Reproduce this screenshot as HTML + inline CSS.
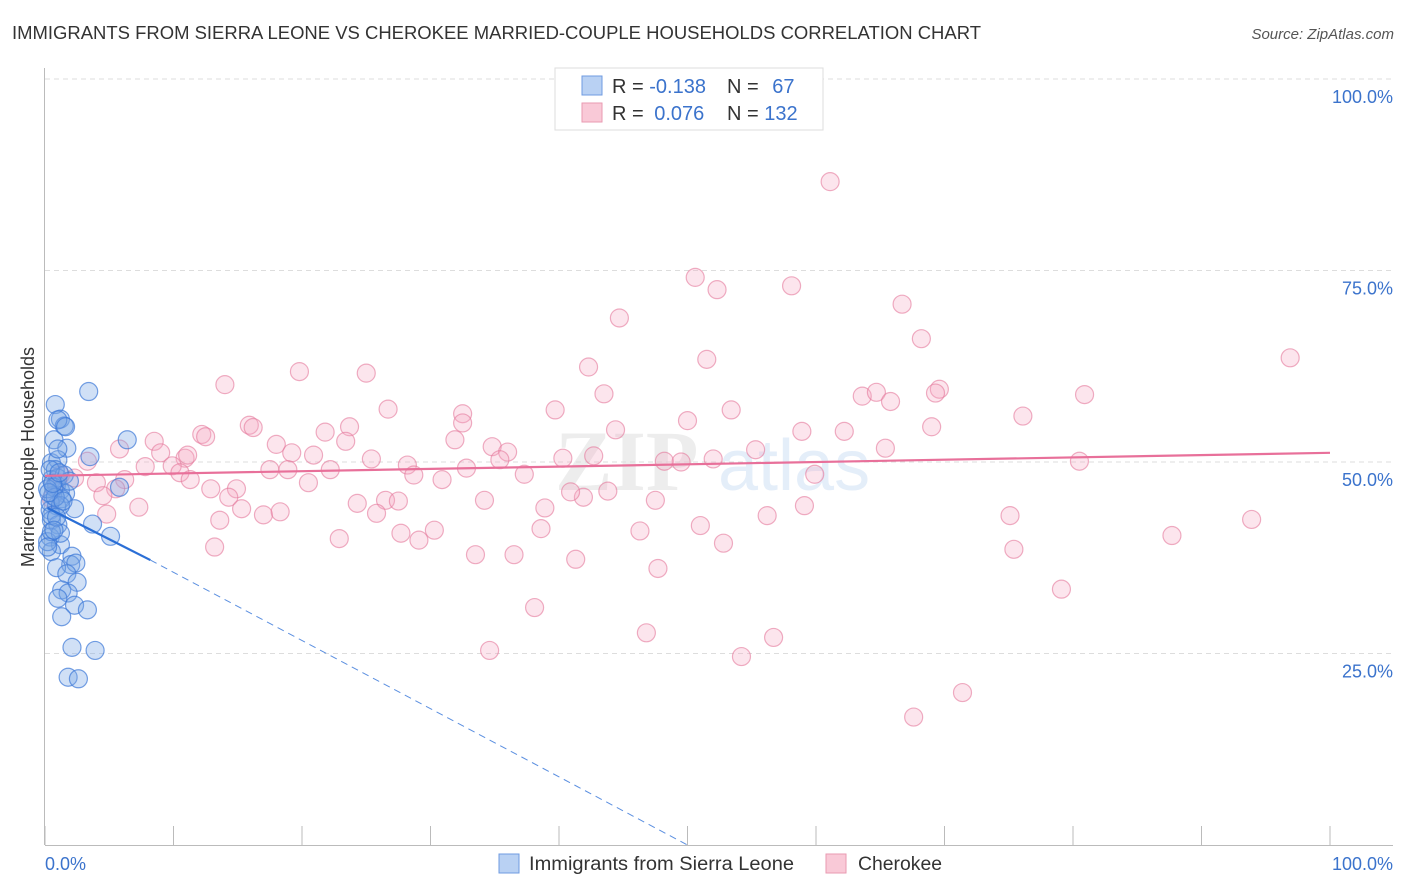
<!DOCTYPE html>
<html><head><meta charset="utf-8"><style>
body{margin:0;background:#fff;font-family:"Liberation Sans",sans-serif;}
svg{display:block}
</style></head><body>
<svg id="chart" width="1406" height="892" font-family="Liberation Sans, sans-serif">
<text x="12" y="39" font-size="18" fill="#333" textLength="969" lengthAdjust="spacingAndGlyphs">IMMIGRANTS FROM SIERRA LEONE VS CHEROKEE MARRIED-COUPLE HOUSEHOLDS CORRELATION CHART</text>
<text x="1394" y="39" font-size="15" fill="#555" font-style="italic" text-anchor="end">Source: ZipAtlas.com</text>
<text transform="translate(34,457) rotate(-90)" font-size="18" fill="#333" text-anchor="middle">Married-couple Households</text>
<g opacity="0.35">
<text x="555" y="490" font-size="86" fill="#ccc" font-family="Liberation Serif, serif" font-weight="bold">ZIP</text>
<text x="718" y="490" font-size="72" fill="#b5cfef">atlas</text>
</g>
<g id="grid"></g>
<g id="axes"></g>
<g id="pts"></g>
<g id="lines"></g>
<g>
<rect x="555" y="68" width="268" height="62" fill="#fff" stroke="#ddd"/>
<rect x="582" y="76" width="20" height="19" fill="#b9d1f3" stroke="#6f9be0"/>
<rect x="582" y="103" width="20" height="19" fill="#f9c9d7" stroke="#e99ab2"/>
<text x="612" y="93" font-size="20" fill="#333">R = <tspan fill="#3b73cc">-0.138</tspan></text>
<text x="727" y="93" font-size="20" fill="#333">N = <tspan fill="#3b73cc" dx="8">67</tspan></text>
<text x="612" y="120" font-size="20" fill="#333">R = <tspan fill="#3b73cc" dx="5">0.076</tspan></text>
<text x="727" y="120" font-size="20" fill="#333">N = <tspan fill="#3b73cc">132</tspan></text>
</g>
<g>
<rect x="499" y="854" width="20" height="19" fill="#b9d1f3" stroke="#6f9be0"/>
<text x="529" y="870" font-size="19" fill="#333" textLength="265" lengthAdjust="spacingAndGlyphs">Immigrants from Sierra Leone</text>
<rect x="826" y="854" width="20" height="19" fill="#f9c9d7" stroke="#e99ab2"/>
<text x="858" y="870" font-size="19" fill="#333" textLength="84" lengthAdjust="spacingAndGlyphs">Cherokee</text>
</g>
<text x="45" y="870" font-size="18" fill="#3b73cc">0.0%</text>
<text x="1393" y="870" font-size="18" fill="#3b73cc" text-anchor="end">100.0%</text>
</svg>
<script>
const yTicks=[100,75,50,25];
const yTickLabels=["100.0%","75.0%","50.0%","25.0%"];
const xTicks=[0,10,20,30,40,50,60,70,80,90,100];
const blueX=[3.4,0.8,1.2,1.5,1,0.7,1.7,1.6,6.4,3.5,0.5,1,0.8,0.5,0.9,1.2,1.6,0.6,1.3,2.3,0.4,0.9,0.5,1,3.7,5.1,5.8,0.4,1.2,0.5,2.1,2,2.4,0.9,1.7,2.5,1.3,1.8,1,2.3,3.3,1.3,2.1,3.9,1.8,2.6,0.2,1.2,0.5,0.4,1,1.5,0.7,0.2,1.9,0.5,1.2,0.2,1,0.4,0.8,0.3,0.6,1.1,1.4,0.9,0.7];
const blueY=[59.2,57.5,55.6,54.7,55.5,52.9,51.8,54.6,52.9,50.7,49.9,50.3,49,47.7,47,46.3,45.9,45.6,45.2,43.9,43.7,44.3,42.4,41.8,41.9,40.3,46.7,40.2,39.2,38.3,37.7,36.6,36.8,36.2,35.4,34.3,33.3,32.9,32.2,31.3,30.7,29.8,25.8,25.4,21.9,21.7,39.6,40.7,40.9,44.7,47.9,48.3,46.7,46.5,47.5,43,44.3,38.9,51.7,49,45.4,46,47.2,48.6,44.9,42.8,41.1];
const pinkX=[61.1,50.6,52.3,58.1,44.7,66.7,68.2,51.5,14,19.8,25,42.3,43.5,96.9,63.6,64.7,65.8,69.6,69.3,80.9,39.7,32.5,26.7,53.4,76.1,50,15.9,16.2,23.7,21.8,32.5,12.2,12.5,44.4,58.9,62.2,69,18,23.4,8.5,5.8,9,10.9,11.1,19.2,31.9,34.8,36,35.4,28.2,32.8,25.4,40.3,42.7,55.3,65.4,48.2,49.5,52,59.9,80.5,3.3,9.9,10.5,11.3,17.5,18.9,20.9,22.2,20.5,28.7,30.9,37.3,14.9,12.9,14.3,2.3,4.0,6.2,5.5,4.5,26.5,24.3,27.5,41.9,43.8,47.5,59.1,34.2,38.9,38.6,46.3,56.2,75.1,15.3,17,18.3,7.3,4.8,25.8,22.9,27.7,30.3,29.1,13.2,33.5,36.5,41.3,51,52.8,75.4,87.7,93.9,47.7,38.1,46.8,56.7,54.2,34.6,79.1,71.4,67.6,0.5,1.2,0.9,7.8,40.9,13.6];
const pinkY=[86.6,74.1,72.5,73,68.8,70.6,66.1,63.4,60.1,61.8,61.6,62.4,58.9,63.6,58.6,59.1,57.9,59.5,59,58.8,56.8,56.3,56.9,56.8,56,55.4,54.8,54.5,54.6,53.9,55.1,53.6,53.3,54.2,54,54,54.6,52.3,52.7,52.7,51.7,51.2,50.5,50.9,51.2,52.9,52,51.3,50.3,49.6,49.2,50.4,50.5,50.8,51.6,51.8,50.1,50,50.4,48.4,50.1,50.1,49.5,48.6,47.7,49,49,50.9,49,47.3,48.3,47.7,48.4,46.5,46.5,45.4,47.9,47.3,47.7,46.5,45.6,45,44.6,44.9,45.4,46.2,45,44.3,45,44,41.3,41,43,43,43.9,43.1,43.5,44.1,43.2,43.3,40,40.7,41.1,39.8,38.9,37.9,37.9,37.3,41.7,39.4,38.6,40.4,42.5,36.1,31,27.7,27.1,24.6,25.4,33.4,19.9,16.7,45.2,48.3,47.4,49.4,46.1,42.4,49.8];
const xS=v=>45+v*12.85, yS=v=>845-v*7.66;
const NS="http://www.w3.org/2000/svg";
function mk(tag,attrs,parent){const e=document.createElementNS(NS,tag);for(const k in attrs)e.setAttribute(k,attrs[k]);parent.appendChild(e);return e;}
const grid=document.getElementById('grid'),axes=document.getElementById('axes'),pts=document.getElementById('pts'),lines=document.getElementById('lines');
yTicks.forEach((t,i)=>{
 const l=mk('line',{x1:45,x2:1393,y1:yS(t),y2:yS(t),stroke:'#ddd','stroke-dasharray':'5,4'},grid);
 
 
 const tx=mk('text',{x:1393,y:yS(t)+24,'font-size':18,fill:'#3b73cc','text-anchor':'end'},grid);
 tx.textContent=yTickLabels[i];
 
 
});
const ya=mk('line',{x1:44.5,x2:44.5,y1:68,y2:845,stroke:'#bbb'},axes);


const xa=mk('line',{x1:45,x2:1393,y1:845.5,y2:845.5,stroke:'#bbb'},axes);


xTicks.forEach(t=>{
 const l=mk('line',{x1:xS(t),x2:xS(t),y1:826,y2:845,stroke:'#bbb'},axes);
 
 
});
pinkX.forEach((x,i)=>{
 const c=mk('circle',{cx:xS(x),cy:yS(pinkY[i]),r:9,fill:'rgba(245,170,195,0.3)',stroke:'rgba(228,120,155,0.6)','stroke-width':1.2},pts);
 
 
});
blueX.forEach((x,i)=>{
 const c=mk('circle',{cx:xS(x),cy:yS(blueY[i]),r:9,fill:'rgba(120,165,230,0.35)',stroke:'rgba(60,120,215,0.7)','stroke-width':1.2},pts);
 
 
});
const pl=mk('line',{x1:xS(0),y1:yS(48.2),x2:xS(100),y2:yS(51.2),stroke:'#e8709a','stroke-width':2.2},lines);


const bl=mk('line',{x1:xS(0.2),y1:yS(44.0),x2:xS(8.2),y2:yS(37.2),stroke:'#2b6fd6','stroke-width':2.2},lines);


const bd=mk('line',{x1:xS(8.2),y1:yS(37.2),x2:xS(50),y2:yS(0),stroke:'#5b8fe0','stroke-width':1,'stroke-dasharray':'7,5'},lines);


</script>
</body></html>
